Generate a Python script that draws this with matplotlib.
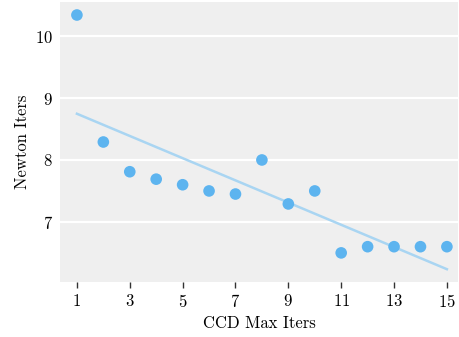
import numpy as np
import matplotlib
matplotlib.use("Agg")
import matplotlib.pyplot as plt

ccd_iters = [1, 2, 3, 4, 5, 6, 7, 8, 9, 10, 11, 12, 13, 14, 15]
newton_iters = [10.34, 8.29, 7.81, 7.69, 7.6, 7.5, 7.45, 8.0, 7.29, 7.5, 6.5, 6.6, 6.6, 6.6, 6.6]
x_ticks = [1, 3, 5, 7, 9, 11, 13, 15]
y_ticks = [7, 8, 9, 10]

plt.rcParams['font.family'] = 'serif'
plt.rcParams['font.serif'] = ['cmr10', 'DejaVu Serif']
plt.rcParams['mathtext.fontset'] = 'cm'
plt.rcParams['axes.formatter.use_mathtext'] = True

fig = plt.figure(figsize=(4.59, 3.37), dpi=100)
ax = fig.add_axes([60/459, 55/337, 398/459, 280/337])
ax.set_facecolor('#efefef')
for s in ax.spines.values():
    s.set_visible(False)

ax.set_axisbelow(True)
ax.yaxis.grid(True, color='white', linewidth=1.6)
ax.xaxis.grid(False)

x = np.array(ccd_iters, dtype=float)
y = np.array(newton_iters)
coef = np.polyfit(x, y, 1)
ax.plot(x, np.polyval(coef, x), color='#a9d5f2', linewidth=1.8, zorder=2)
ax.scatter(x, y, s=70, color='#5db4ef', edgecolor='none', zorder=3)

ax.set_xlim(0.36, 15.42)
ax.set_ylim(6.03, 10.55)
ax.set_xticks(x_ticks)
ax.set_yticks(y_ticks)
ax.tick_params(axis='x', length=4, width=1, color='#333333', labelsize=12, pad=4)
ax.tick_params(axis='y', length=0, labelsize=12, pad=5)
ax.set_xlabel('CCD Max Iters', fontsize=12, labelpad=4)
ax.set_ylabel('Newton Iters', fontsize=12, labelpad=3.5)

fig.savefig('out.png', dpi=100)
